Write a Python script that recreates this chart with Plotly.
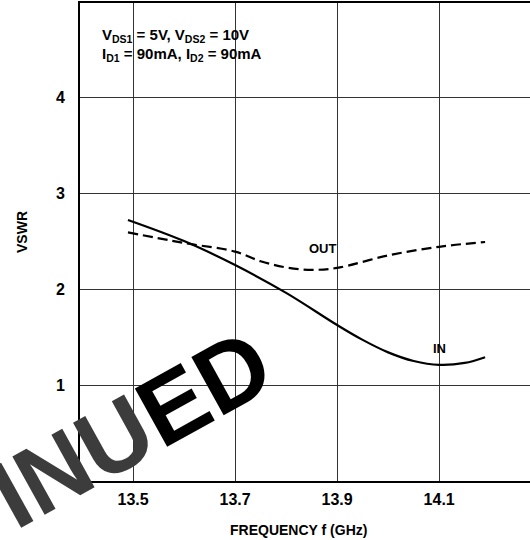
import plotly.graph_objects as go

# ---- data ----
in_freq = [13.49, 13.6, 13.7, 13.8, 13.9, 13.95, 14.0, 14.05, 14.1, 14.15, 14.19]
in_vswr = [2.72, 2.50, 2.25, 1.96, 1.625, 1.47, 1.34, 1.25, 1.21, 1.23, 1.29]

out_freq = [13.49, 13.6, 13.7, 13.75, 13.8, 13.85, 13.9, 14.0, 14.1, 14.19]
out_vswr = [2.59, 2.48, 2.39, 2.29, 2.225, 2.20, 2.22, 2.35, 2.44, 2.49]

x_ticks = [13.5, 13.7, 13.9, 14.1]
x_tick_labels = ["13.5", "13.7", "13.9", "14.1"]
y_ticks = [1, 2, 3, 4]
y_tick_labels = ["1", "2", "3", "4"]

FONT = "Liberation Sans, Arial, sans-serif"

fig = go.Figure()
fig.add_trace(go.Scatter(x=in_freq, y=in_vswr, mode="lines",
                         line=dict(color="black", width=2.2, shape="spline"),
                         showlegend=False, hoverinfo="skip"))
fig.add_trace(go.Scatter(x=out_freq, y=out_vswr, mode="lines",
                         line=dict(color="black", width=2.2, shape="spline", dash="10px,5px"),
                         showlegend=False, hoverinfo="skip"))

fig.update_layout(
    width=530, height=540,
    margin=dict(l=80, r=0, t=3, b=59),
    paper_bgcolor="white", plot_bgcolor="white",
    font=dict(family=FONT, color="black"),
    xaxis=dict(range=[13.396, 14.278], tickvals=x_ticks, ticktext=x_tick_labels,
               showgrid=True, gridcolor="#333", gridwidth=1,
               showline=True, linecolor="black", linewidth=2, mirror=True,
               ticks="", ticklabelstandoff=3,
               tickfont=dict(size=16, family=FONT, weight="bold"),
               zeroline=False, fixedrange=True),
    yaxis=dict(range=[0, 4.98], tickvals=y_ticks, ticktext=y_tick_labels,
               showgrid=True, gridcolor="#333", gridwidth=1,
               showline=True, linecolor="black", linewidth=2, mirror=False,
               ticks="", ticklabelstandoff=10,
               tickfont=dict(size=16, family=FONT, weight="bold"),
               zeroline=False, fixedrange=True),
    annotations=[
        dict(xref="paper", yref="paper", x=0.045, y=0.933, xanchor="left", yanchor="middle",
             text="V<sub>DS1</sub> = 5V, V<sub>DS2</sub> = 10V", showarrow=False,
             font=dict(size=15, family=FONT, weight="bold")),
        dict(xref="paper", yref="paper", x=0.045, y=0.893, xanchor="left", yanchor="middle",
             text="I<sub>D1</sub> = 90mA, I<sub>D2</sub> = 90mA", showarrow=False,
             font=dict(size=15, family=FONT, weight="bold")),
        dict(xref="x", yref="y", x=13.872, y=2.42, text="OUT", showarrow=False,
             font=dict(size=13, family=FONT, weight="bold")),
        dict(xref="x", yref="y", x=14.1, y=1.38, text="IN", showarrow=False,
             font=dict(size=13, family=FONT, weight="bold")),
        dict(xref="paper", yref="paper", x=(298 - 80) / 450, y=-(530 - 481) / 478,
             xanchor="center", yanchor="middle", text="FREQUENCY f (GHz)", showarrow=False,
             font=dict(size=14, family=FONT, weight="bold")),
        dict(xref="paper", yref="paper", x=-(80 - 22) / 450, y=(481 - 232) / 478,
             xanchor="center", yanchor="middle", text="VSWR", textangle=-90, showarrow=False,
             font=dict(size=14, family=FONT, weight="bold")),
        # partial "DISCONTINUED" stamp
        dict(xref="paper", yref="paper", x=(131 - 80) / 450, y=(481 - 428) / 478,
             xanchor="center", yanchor="middle",
             text="<span style='color:#3c3c3c'>INU</span>ED", textangle=-29, showarrow=False,
             font=dict(size=97, family=FONT, weight="bold", color="black")),
    ],
)

fig.write_html("out.html")
